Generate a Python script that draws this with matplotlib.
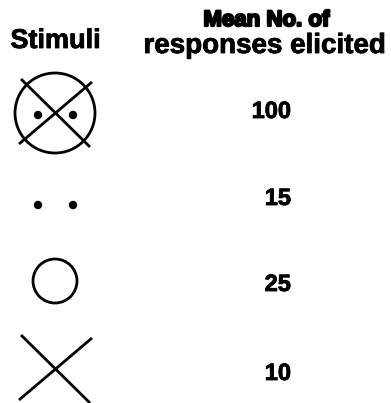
import matplotlib.pyplot as plt
import matplotlib.patches as patches
import matplotlib.patheffects as pe

# Stimuli (components of each drawn figure) and mean responses
stimuli = ['circle+cross+dots', 'dots', 'circle', 'cross']
components = [['circle', 'cross', 'dots'], ['dots'], ['circle'], ['cross']]
mean_responses = [100, 15, 25, 10]

# layout in pixel coordinates
row_y = [113, 203, 281, 369]
label_base = [118, 205, 291, 380]
sym_x = 55
circle_r = [40, 0, 22, 0]
lw = 2.0
font = 'Liberation Sans'

fig = plt.figure(figsize=(3.91, 4.03), dpi=100)
ax = fig.add_axes([0, 0, 1, 1])
ax.set_xlim(0, 391)
ax.set_ylim(403, 0)
ax.axis('off')

for parts, y, r, val, yb in zip(components, row_y, circle_r, mean_responses, label_base):
    if 'circle' in parts:
        ax.add_patch(patches.Circle((sym_x, y), r, fill=False, lw=lw, ec='black'))
    if 'cross' in parts:
        ax.plot([sym_x - 34, sym_x + 35], [y - 34, y + 34], color='black', lw=lw,
                solid_capstyle='butt')
        ax.plot([sym_x + 37, sym_x - 36], [y - 31, y + 31], color='black', lw=lw,
                solid_capstyle='butt')
    if 'dots' in parts:
        for dx in (-17, 18):
            ax.add_patch(patches.Circle((sym_x + dx, y + 2), 3.5, color='black'))
    ax.text(291, yb, str(val), ha='right', va='baseline',
            fontsize=17, fontweight='bold', family=font,
            path_effects=[pe.withStroke(linewidth=0.6, foreground='black')])

ax.text(55.5, 48, 'Stimuli', ha='center', va='baseline', fontsize=19.5,
        fontweight='bold', family=font,
        path_effects=[pe.withStroke(linewidth=0.6, foreground='black')])
ax.text(266.5, 26, 'Mean No. of', ha='center', va='baseline', fontsize=16,
        fontweight='bold', family=font,
        path_effects=[pe.withStroke(linewidth=1.6, foreground='black')])
ax.text(264.5, 53, 'responses elicited', ha='center', va='baseline', fontsize=20,
        fontweight='bold', family=font,
        path_effects=[pe.withStroke(linewidth=0.6, foreground='black')])

fig.savefig('out.png', dpi=100)
